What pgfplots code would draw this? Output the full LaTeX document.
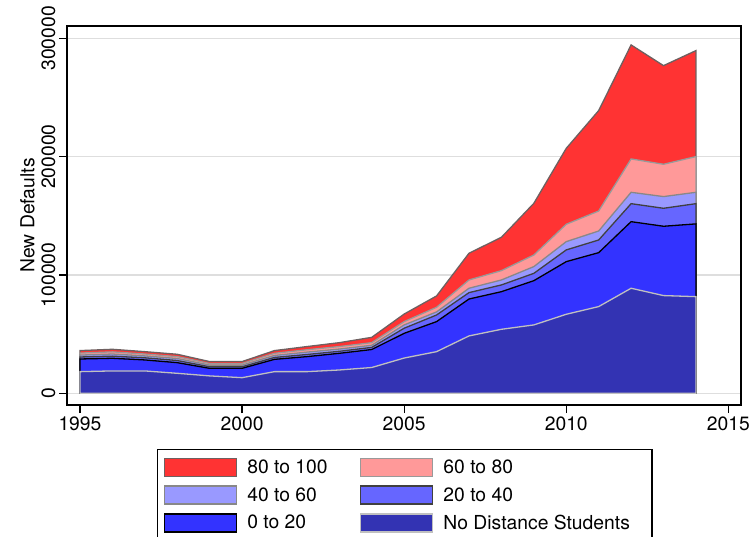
\documentclass[border=0pt]{standalone}
\usepackage{fontspec}
\setmainfont{TeX Gyre Heros}
\usepackage{pgfplots}
\usepackage{pgfplotstable}
\pgfplotsset{compat=1.18}
\definecolor{f80}{RGB}{255,51,51}
\definecolor{e80}{RGB}{110,96,96}
\definecolor{f60}{RGB}{255,153,153}
\definecolor{e60}{RGB}{153,153,153}
\definecolor{f40}{RGB}{153,153,255}
\definecolor{e40}{RGB}{136,136,136}
\definecolor{f20}{RGB}{102,102,255}
\definecolor{e20}{RGB}{64,64,64}
\definecolor{f0}{RGB}{51,51,255}
\definecolor{e0}{RGB}{0,0,0}
\definecolor{fnd}{RGB}{51,51,179}
\definecolor{end}{RGB}{192,192,192}
% cumulative stacks: total (80-100 top), 60-80 top, 40-60 top, 20-40 top, 0-20 top, no distance top
\pgfplotstableread{
year  t80    t60    t40    t20    t0     nd
1995  36100  34000  32300  30700  29000  18300
1996  37200  35000  33200  31400  29600  18900
1997  35200  33200  31600  30000  28200  18900
1998  33000  31000  29400  27700  25900  16900
1999  26800  25200  23800  22400  21100  14700
2000  26800  25200  23800  22400  21100  13200
2001  36100  33800  32000  30300  28700  18300
2002  39500  36800  34800  32800  31000  18300
2003  42800  39500  37400  35500  33800  19700
2004  47300  42800  40600  38800  37000  21800
2005  67000  60600  57800  55000  50700  29800
2006  82300  72700  68800  66200  60600  35200
2007  118400 95800  88800  85100  79700  48500
2008  131900 103700 95800  91600  85900  54100
2009  160600 116900 107100 101400 95200  57800
2010  207100 142900 128200 121200 111300 66800
2011  239000 154100 137200 129600 118900 73300
2012  294500 198100 169900 160300 145100 88800
2013  277000 193600 166300 156400 141200 82600
2014  289700 200100 169900 160300 143200 81700
}\data
\begin{document}
\begin{tikzpicture}[font=\fontsize{19.3}{23}\selectfont]
\begin{axis}[
  name=ax,
  width=674pt, height=379pt, scale only axis,
  xmin=1994.6, xmax=2015.39, ymin=-9900, ymax=310500,
  xtick={1995,2000,2005,2010,2015},
  ytick={0,100000,200000,300000},
  scaled y ticks=false,
  /pgf/number format/assume math mode=true,
  x tick label style={/pgf/number format/1000 sep={}},
  y tick label style={/pgf/number format/fixed,/pgf/number format/1000 sep={},rotate=90,anchor=south},
  tick align=outside, major tick length=8pt,
  xtick pos=left, ytick pos=left,
  tick style={line width=1.2pt,black},
  axis line style={line width=1.4pt},
  ymajorgrids, grid style={line width=1.3pt,color={rgb,255:red,222;green,222;blue,222}},
  ylabel={New Defaults},
  legend columns=2,
  legend image code/.code={\draw[#1,line width=1.6pt] (0pt,-9pt) rectangle (72pt,9pt); \path[draw=none,fill=none] (0pt,0pt) -- (81pt,0pt);},
  legend style={at={(axis description cs:0.1335,-0.1161)},anchor=north west,
    draw=black,line width=1.2pt,
    /tikz/column 2/.style={column sep=30pt},
    /tikz/column 4/.style={column sep=0pt},
    row sep=8pt,
    inner xsep=6pt, inner ysep=8pt,
    legend cell align=left},
]
\addplot[fill=f80,draw=e80,line width=1.3pt] table[x=year,y=t80]{\data} \closedcycle;
\addlegendentry{80 to 100}
\addplot[fill=f60,draw=e60,line width=1.3pt] table[x=year,y=t60]{\data} \closedcycle;
\addlegendentry{60 to 80}
\addplot[fill=f40,draw=e40,line width=1.3pt] table[x=year,y=t40]{\data} \closedcycle;
\addlegendentry{40 to 60}
\addplot[fill=f20,draw=e20,line width=1.3pt] table[x=year,y=t20]{\data} \closedcycle;
\addlegendentry{20 to 40}
\addplot[fill=f0,draw=e0,line width=1.3pt] table[x=year,y=t0]{\data} \closedcycle;
\addlegendentry{0 to 20}
\addplot[fill=fnd,draw=end,line width=1.3pt] table[x=year,y=nd]{\data} \closedcycle;
\addlegendentry{No Distance Students\rule{14pt}{0pt}}
\end{axis}
\pgfresetboundingbox
\path[use as bounding box] ([shift={(-67pt,-132pt)}]ax.south west) rectangle ([shift={(10pt,26pt)}]ax.north east);
\end{tikzpicture}
\end{document}
